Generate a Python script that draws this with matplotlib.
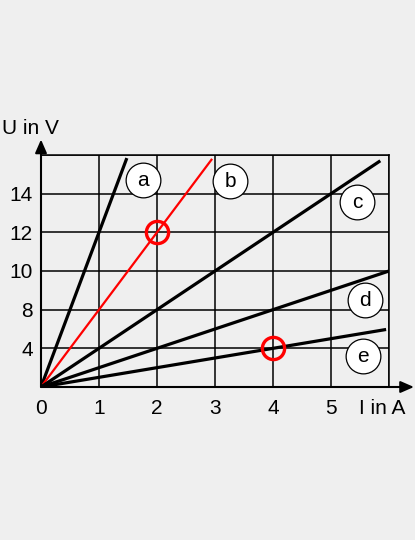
import matplotlib
matplotlib.use("Agg")
import matplotlib.pyplot as plt

# Data
line_names = ["a", "b", "c", "d", "e"]
slopes = [12, 6, 3, 1.5, 0.75]          # U per A in axis units
x_end = [1.48, 2.95, 5.85, 6.0, 5.95]
line_colors = ["black", "red", "black", "black", "black"]
label_pos_x = [1.76, 3.26, 5.45, 5.59, 5.55]
label_pos_y = [16.05, 15.95, 14.35, 6.75, 2.4]
marked_x = [2, 4]
marked_y = [12, 3]
x_ticks = [0, 1, 2, 3, 4, 5, 6]
x_ticklabels = ["0", "1", "2", "3", "4", "5", ""]
y_ticks = [0, 3, 6, 9, 12, 15, 18]
y_ticklabels = ["", "4", "8", "10", "12", "14", ""]

bg = "#efefef"
plt.rcParams["font.family"] = ["Liberation Sans", "DejaVu Sans"]

fig = plt.figure(figsize=(4.15, 5.4), dpi=100, facecolor=bg)
ax = fig.add_axes([41/415, 153/540, 348/415, 232/540], facecolor=bg)
ax.set_xlim(0, 6)
ax.set_ylim(0, 18)
ax.set_xticks(x_ticks)
ax.set_xticklabels(x_ticklabels)
ax.set_yticks(y_ticks)
ax.set_yticklabels(y_ticklabels)
ax.tick_params(length=0, labelsize=15)
ax.tick_params(axis="x", pad=9)
ax.tick_params(axis="y", pad=6)
ax.grid(True, color="black", lw=1.1)
ax.set_axisbelow(True)
for s in ["top", "right"]:
    ax.spines[s].set_color("black")
    ax.spines[s].set_linewidth(1.1)
for s in ["left", "bottom"]:
    ax.spines[s].set_visible(False)

for name, m, xe, c in zip(line_names, slopes, x_end, line_colors):
    ax.plot([0, xe], [0, m * xe], color=c, lw=1.6 if c == "red" else 2.3,
            solid_capstyle="butt", zorder=3)

ax.plot(marked_x, marked_y, "o", ms=16, mfc="none", mec="red", mew=2.4, zorder=5)

for name, lx, ly in zip(line_names, label_pos_x, label_pos_y):
    ax.plot(lx, ly, "o", ms=25, mfc="white", mec="black", mew=0.9, zorder=6)
    ax.text(lx, ly, name, ha="center", va="center", fontsize=15, zorder=7)

# axes arrows
ax.annotate("", xy=(6.43, 0), xytext=(0, 0), xycoords="data",
            arrowprops=dict(arrowstyle="-|>,head_length=0.8,head_width=0.35",
                            color="black", lw=1.5, shrinkA=0, shrinkB=0),
            annotation_clip=False, zorder=8)
ax.annotate("", xy=(0, 19.2), xytext=(0, 0), xycoords="data",
            arrowprops=dict(arrowstyle="-|>,head_length=0.8,head_width=0.35",
                            color="black", lw=1.5, shrinkA=0, shrinkB=0),
            annotation_clip=False, zorder=8)

fig.text(2/415, 1 - 128/540, "U in V", fontsize=15, ha="left", va="center")
fig.text(405/415, 1 - 408/540, "I in A", fontsize=15, ha="right", va="center")

fig.savefig("out.png", dpi=100, facecolor=bg)
